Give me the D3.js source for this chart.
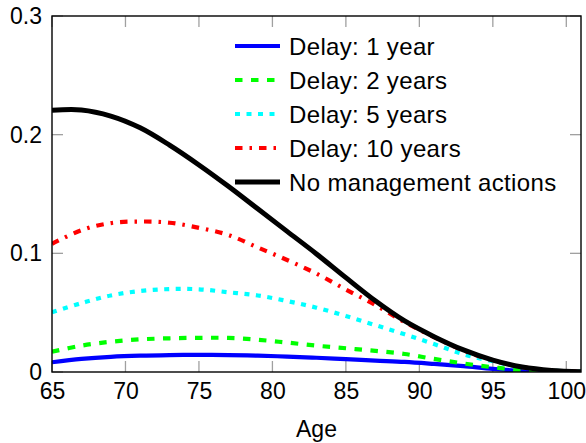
<!DOCTYPE html>
<html>
<head>
<meta charset="utf-8">
<script src="https://cdn.jsdelivr.net/npm/d3@7"></script>
<style>
  html, body { margin: 0; padding: 0; background: #fff; }
  svg { display: block; font-family: "Liberation Sans", Arial, sans-serif; }
</style>
</head>
<body>
<svg id="chart" width="586" height="443"></svg>
<script>
// Ages sampled along the x axis
const ages = [65, 67, 69, 71, 73, 75, 77, 79, 81, 83, 85, 87, 89, 91, 93, 95, 97, 99, 101];

// Probability curves for each scenario
const delay1  = [0.0082, 0.0110, 0.0128, 0.0138, 0.0143, 0.0145, 0.0143, 0.0138, 0.0130, 0.0120, 0.0108, 0.0096, 0.0085, 0.0068, 0.0049, 0.0026, 0.0010, 0.0003, 0.0001];
const delay2  = [0.0171, 0.0222, 0.0255, 0.0275, 0.0284, 0.0288, 0.0287, 0.0272, 0.0248, 0.0222, 0.0200, 0.0178, 0.0152, 0.0110, 0.0072, 0.0040, 0.0014, 0.0004, 0.0001];
const delay5  = [0.0503, 0.0580, 0.0645, 0.0683, 0.0699, 0.0697, 0.0672, 0.0645, 0.0598, 0.0542, 0.0472, 0.0395, 0.0318, 0.0235, 0.0150, 0.0090, 0.0040, 0.0012, 0.0003];
const delay10 = [0.1080, 0.1195, 0.1255, 0.1268, 0.1258, 0.1215, 0.1155, 0.1050, 0.0944, 0.0829, 0.0695, 0.0565, 0.0420, 0.0294, 0.0182, 0.0098, 0.0041, 0.0012, 0.0003];
const noAction = [0.2205, 0.2208, 0.2157, 0.2058, 0.1912, 0.1745, 0.1565, 0.1375, 0.1185, 0.0995, 0.0795, 0.0600, 0.0430, 0.0298, 0.0186, 0.0100, 0.0042, 0.0013, 0.0003];

const seriesNames = ["Delay: 1 year", "Delay: 2 years", "Delay: 5 years", "Delay: 10 years", "No management actions"];
const seriesValues = [delay1, delay2, delay5, delay10, noAction];
const seriesColors = ["#0000ff", "#00ff00", "#00ffff", "#ff0000", "#000000"];
const seriesDash = [null, "7.5,8.5", "5,6.5", "7.5,7,2.5,7", null];
const seriesWidth = [4.2, 4.2, 4.2, 4.2, 5];

const xTicks = [65, 70, 75, 80, 85, 90, 95, 100];
const yTicks = [0, 0.1, 0.2, 0.3];
const yTickLabels = ["0", "0.1", "0.2", "0.3"];
const xLabel = "Age";

const svg = d3.select("#chart");
const plotL = 52, plotR = 581, plotT = 16, plotB = 372;

const x = d3.scaleLinear().domain([65, 101]).range([plotL, plotR]);
const y = d3.scaleLinear().domain([0, 0.3]).range([plotB, plotT]);

svg.append("defs").append("clipPath").attr("id", "plotClip")
  .append("rect").attr("x", plotL).attr("y", plotT)
  .attr("width", plotR - plotL).attr("height", plotB - plotT);

// Inward grey ticks on all four sides
const tickLen = 11;
const tickColor = "#a0a0a0";
const ticks = svg.append("g").attr("stroke", tickColor).attr("stroke-width", 1.3);
xTicks.forEach(t => {
  ticks.append("line").attr("x1", x(t)).attr("x2", x(t)).attr("y1", plotB).attr("y2", plotB - tickLen);
  ticks.append("line").attr("x1", x(t)).attr("x2", x(t)).attr("y1", plotT).attr("y2", plotT + tickLen);
});
yTicks.forEach(t => {
  ticks.append("line").attr("x1", plotL).attr("x2", plotL + tickLen).attr("y1", y(t)).attr("y2", y(t));
  ticks.append("line").attr("x1", plotR).attr("x2", plotR - tickLen).attr("y1", y(t)).attr("y2", y(t));
});

// Curves
const line = d3.line().x((d, i) => x(ages[i])).y(d => y(d)).curve(d3.curveCatmullRom.alpha(0.5));
const curves = svg.append("g").attr("clip-path", "url(#plotClip)");
seriesValues.forEach((vals, k) => {
  curves.append("path")
    .attr("d", line(vals))
    .attr("fill", "none")
    .attr("stroke", seriesColors[k])
    .attr("stroke-width", seriesWidth[k])
    .attr("stroke-dasharray", seriesDash[k]);
});

// Axis frame
svg.append("rect").attr("x", plotL).attr("y", plotT)
  .attr("width", plotR - plotL).attr("height", plotB - plotT)
  .attr("fill", "none").attr("stroke", "#000").attr("stroke-width", 1.4);

// Tick labels
const xAxis = d3.axisBottom(x).tickValues(xTicks).tickSize(0).tickPadding(11).tickFormat(d3.format("d"));
const gx = svg.append("g").attr("transform", `translate(0,${plotB})`).call(xAxis);
gx.select(".domain").remove();
gx.selectAll("text").attr("font-size", 23).attr("fill", "#000").attr("font-family", "Liberation Sans, Arial, sans-serif");

const yAxis = d3.axisLeft(y).tickValues(yTicks).tickSize(0).tickPadding(10).tickFormat((d, i) => yTickLabels[i]);
const gy = svg.append("g").attr("transform", `translate(${plotL},0)`).call(yAxis);
gy.select(".domain").remove();
gy.selectAll("text").attr("font-size", 23).attr("fill", "#000").attr("font-family", "Liberation Sans, Arial, sans-serif");

svg.append("text").attr("x", (plotL + plotR) / 2).attr("y", 437)
  .attr("text-anchor", "middle").attr("font-size", 23).text(xLabel);

// Legend
const legend = svg.append("g");
seriesNames.forEach((name, k) => {
  const ly = 46 + k * 34;
  legend.append("line").attr("x1", 235).attr("x2", 280).attr("y1", ly).attr("y2", ly)
    .attr("stroke", seriesColors[k]).attr("stroke-width", seriesWidth[k])
    .attr("stroke-dasharray", seriesDash[k]);
  legend.append("text").attr("x", 289).attr("y", ly + 8.5)
    .attr("font-size", 24).attr("letter-spacing", 0.35).attr("fill", "#000").text(name);
});
</script>
</body>
</html>
